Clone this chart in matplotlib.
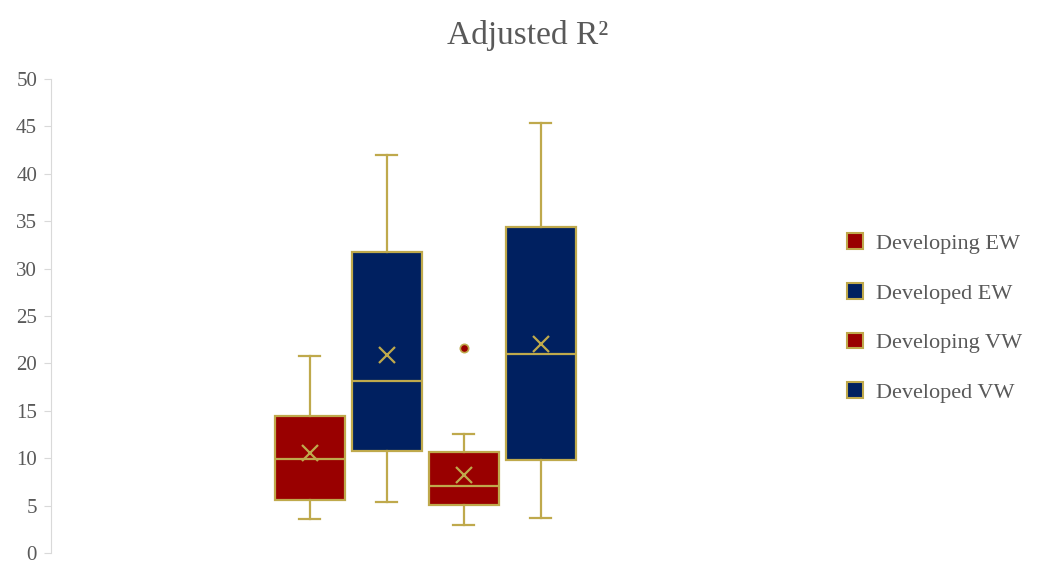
import matplotlib.pyplot as plt
from matplotlib.patches import Patch

# box plot summaries for adjusted R² (percent)
labels = ["Developing EW", "Developed EW", "Developing VW", "Developed VW"]
whis_lo = [3.6, 5.4, 3.0, 3.7]
q1 = [5.6, 10.8, 5.1, 9.8]
medians = [9.9, 18.1, 7.1, 21.0]
q3 = [14.5, 31.7, 10.7, 34.4]
whis_hi = [20.8, 42.0, 12.5, 45.4]
means = [10.5, 20.9, 8.2, 22.0]
outliers = [[], [], [21.6], []]

RED = "#990000"
NAVY = "#002060"
GOLD = "#BFA94C"
GREY = "#595959"
fills = [RED, NAVY, RED, NAVY]

plt.rcParams["font.family"] = ["Liberation Serif", "DejaVu Serif"]

fig = plt.figure(figsize=(10.4, 5.63), dpi=100)
ax = fig.add_axes([0.049, 0.0178, 0.72, 0.842])

stats = []
for i in range(len(labels)):
    stats.append(dict(label=labels[i], whislo=whis_lo[i], q1=q1[i], med=medians[i],
                      q3=q3[i], whishi=whis_hi[i], mean=means[i], fliers=outliers[i]))

pos = [0, 1, 2, 3]
bp = ax.bxp(stats, positions=pos, widths=0.91, patch_artist=True, showmeans=True,
            capwidths=0.27,
            boxprops=dict(edgecolor=GOLD, linewidth=1.6),
            medianprops=dict(color=GOLD, linewidth=1.6),
            whiskerprops=dict(color=GOLD, linewidth=1.6),
            capprops=dict(color=GOLD, linewidth=1.6),
            meanprops=dict(marker="x", markeredgecolor=GOLD, markersize=12,
                           markeredgewidth=1.6),
            flierprops=dict(marker="o", markerfacecolor=RED, markeredgecolor=GOLD,
                            markersize=6, markeredgewidth=1.2))
for box, c in zip(bp["boxes"], fills):
    box.set_facecolor(c)

half = (800 - 51) / 2 / 77
ax.set_xlim(1.5 - half, 1.5 + half)
ax.set_ylim(0, 50)
ax.set_yticks(range(0, 51, 5))
ax.set_xticks([])
for s in ["top", "right", "bottom"]:
    ax.spines[s].set_visible(False)
ax.spines["left"].set_color("#D9D9D9")
ax.tick_params(axis="y", colors="#D9D9D9", labelcolor=GREY, labelsize=15, length=5, pad=5)

fig.text(0.507, 0.937, "Adjusted R²", ha="center", va="center", fontsize=24, color=GREY)

handles = [Patch(facecolor=c, edgecolor=GOLD, linewidth=1.5) for c in fills]
fig.legend(handles, labels, loc="center left", bbox_to_anchor=(0.814, 0.435), frameon=False,
           fontsize=16, labelcolor=GREY, handlelength=0.72, handleheight=0.72,
           handletextpad=0.6, labelspacing=1.3, borderpad=0, borderaxespad=0)

fig.savefig("out.png", dpi=100)
